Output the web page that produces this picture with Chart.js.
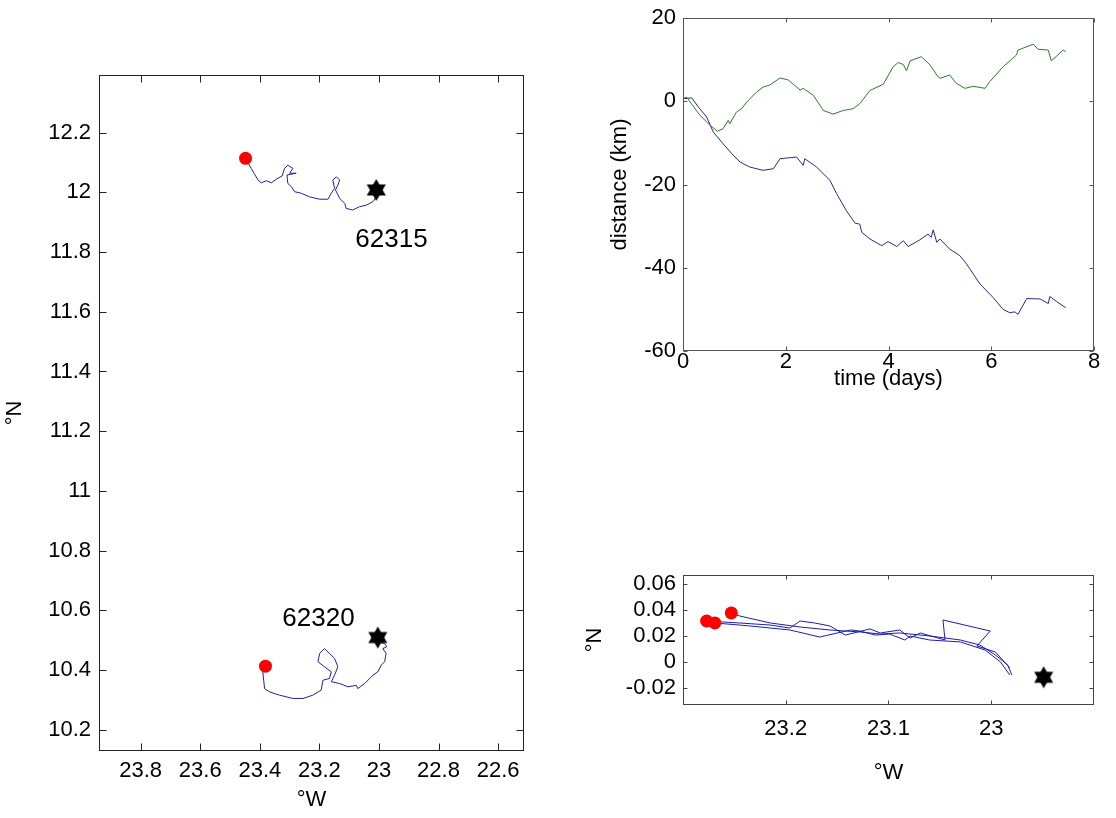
<!DOCTYPE html>
<html>
<head>
<meta charset="utf-8">
<script src="https://cdn.jsdelivr.net/npm/chart.js@4.4.1/dist/chart.umd.min.js"></script>
<style>
  html, body { margin: 0; padding: 0; background: #fff; }
  body { width: 1116px; height: 818px; position: relative; overflow: hidden; }
  canvas { position: absolute; }
</style>
</head>
<body>
<canvas id="mapa" width="540" height="818" style="left:0;top:0"></canvas>
<canvas id="distancia" width="556" height="400" style="left:560px;top:0"></canvas>
<canvas id="relativo" width="556" height="278" style="left:560px;top:540px"></canvas>
<script>
// --- left panel: drifter tracks (deg W, deg N)
const lon62315 = [23.448, 23.429, 23.406, 23.395, 23.378, 23.361, 23.345, 23.325, 23.317, 23.306, 23.289, 23.300, 23.278, 23.309, 23.306, 23.294, 23.283, 23.261, 23.233, 23.199, 23.171, 23.160, 23.149, 23.155, 23.143, 23.132, 23.138, 23.146, 23.132, 23.115, 23.110, 23.088, 23.065, 23.043, 23.020, 23.009, 23.009];
const lat62315 = [12.114, 12.080, 12.041, 12.032, 12.039, 12.032, 12.044, 12.055, 12.080, 12.091, 12.080, 12.064, 12.064, 12.058, 12.030, 12.019, 12.002, 11.997, 11.985, 11.977, 11.977, 11.997, 12.013, 12.041, 12.052, 12.041, 12.024, 12.008, 11.980, 11.963, 11.946, 11.941, 11.952, 11.957, 11.969, 11.985, 12.008];
const lon62320 = [23.381, 23.390, 23.384, 23.367, 23.334, 23.289, 23.255, 23.222, 23.194, 23.188, 23.166, 23.160, 23.183, 23.205, 23.199, 23.183, 23.166, 23.149, 23.138, 23.149, 23.160, 23.132, 23.104, 23.076, 23.071, 23.048, 23.020, 23.004, 22.992, 22.981, 22.976, 22.987, 22.974, 22.981, 22.992, 23.004];
const lat62320 = [10.413, 10.394, 10.338, 10.327, 10.316, 10.305, 10.305, 10.316, 10.333, 10.366, 10.372, 10.394, 10.411, 10.428, 10.456, 10.472, 10.456, 10.439, 10.411, 10.383, 10.361, 10.355, 10.344, 10.349, 10.338, 10.355, 10.383, 10.394, 10.417, 10.428, 10.456, 10.472, 10.478, 10.489, 10.491, 10.509];
const finLon = [23.448, 23.381];
const finLat = [12.114, 10.413];
const inicioLon = [23.009, 23.004];
const inicioLat = [12.008, 10.509];
const boyas = ['62315', '62320'];
const boyasLon = [22.958, 23.203];
const boyasLat = [11.840, 10.570];
const mapaXTicks = [22.6, 22.8, 23, 23.2, 23.4, 23.6, 23.8];
const mapaYTicks = [10.2, 10.4, 10.6, 10.8, 11, 11.2, 11.4, 11.6, 11.8, 12, 12.2];

// --- top right: distance (km) against time (days)
const verdeT = [0, 0.07, 0.14, 0.33, 0.53, 0.67, 0.78, 0.88, 0.91, 1.04, 1.14, 1.24, 1.43, 1.56, 1.69, 1.89, 2.05, 2.28, 2.34, 2.54, 2.73, 2.92, 3.12, 3.31, 3.44, 3.64, 3.90, 4.09, 4.19, 4.29, 4.35, 4.42, 4.64, 4.81, 4.94, 5.0, 5.19, 5.32, 5.49, 5.65, 5.88, 5.97, 6.23, 6.49, 6.52, 6.82, 6.91, 7.11, 7.17, 7.40, 7.45];
const verdeD = [0.6, 1.0, -0.2, -3.4, -5.8, -7.2, -6.6, -4.6, -5.4, -2.6, -1.8, -0.2, 2.2, 3.4, 3.9, 5.6, 5.1, 2.7, 3.1, 1.4, -2.2, -3.1, -2.2, -1.8, -0.6, 2.6, 4.1, 8.3, 9.3, 8.8, 7.3, 9.7, 10.7, 8.7, 6.3, 5.5, 6.3, 4.3, 3.1, 3.6, 3.1, 4.7, 8.3, 11.1, 12.3, 13.7, 12.5, 12.3, 9.7, 12.3, 11.9];
const azulT = [0, 0.17, 0.30, 0.46, 0.59, 0.78, 0.95, 1.11, 1.30, 1.56, 1.76, 1.89, 2.21, 2.34, 2.37, 2.60, 2.86, 2.99, 3.18, 3.35, 3.44, 3.48, 3.64, 3.87, 3.99, 4.16, 4.29, 4.38, 4.61, 4.77, 4.83, 4.87, 4.94, 5.0, 5.19, 5.39, 5.52, 5.78, 6.04, 6.23, 6.36, 6.46, 6.52, 6.69, 6.95, 7.11, 7.14, 7.27, 7.45];
const azulD = [0.6, 0.8, -1.4, -3.8, -7.4, -10.2, -12.6, -14.6, -15.8, -16.6, -16.2, -13.8, -13.4, -15.4, -13.8, -15.8, -19.0, -22.2, -26.3, -29.3, -29.5, -31.5, -33.1, -34.7, -33.7, -34.9, -33.5, -34.9, -33.3, -31.9, -32.7, -30.9, -33.9, -33.1, -35.5, -37.1, -39.1, -43.9, -47.2, -50.0, -50.8, -50.6, -51.2, -47.4, -47.5, -48.6, -46.9, -48.1, -49.6];
const tiempoTicks = [0, 2, 4, 6, 8];
const distanciaTicks = [-60, -40, -20, 0, 20];

// --- bottom right: relative tracks
const relALon = [23.253, 23.245, 23.215, 23.186, 23.157, 23.128, 23.108, 23.089, 23.060, 23.030, 23.011, 22.996, 22.984, 22.980];
const relALat = [0.0378, 0.0355, 0.0301, 0.027, 0.0247, 0.0232, 0.0216, 0.0224, 0.0201, 0.017, 0.0131, 0.0055, -0.0022, -0.0099];
const relBLon = [23.277, 23.245, 23.215, 23.196, 23.186, 23.172, 23.157, 23.142, 23.118, 23.108, 23.089, 23.079, 23.069, 23.045, 23.047, 23.001, 23.014, 22.996, 22.982];
const relBLat = [0.0316, 0.0301, 0.0285, 0.0262, 0.0316, 0.0301, 0.0278, 0.0208, 0.0255, 0.0224, 0.0247, 0.0185, 0.0224, 0.017, 0.0324, 0.0239, 0.0124, 0.0078, -0.0045];
const relCLon = [23.269, 23.245, 23.235, 23.196, 23.167, 23.137, 23.128, 23.113, 23.099, 23.084, 23.079, 23.060, 23.030, 23.006, 22.991, 22.982];
const relCLat = [0.0301, 0.0285, 0.0278, 0.0247, 0.0193, 0.0247, 0.0239, 0.0208, 0.0216, 0.017, 0.0201, 0.017, 0.0155, 0.0093, 0.0001, -0.0099];
const relFinLon = [23.277, 23.269, 23.253];
const relFinLat = [0.0316, 0.0301, 0.0378];
const relInicioLon = [22.949];
const relInicioLat = [-0.0117];
const relXTicks = [23, 23.1, 23.2];
const relYTicks = [-0.02, 0, 0.02, 0.04, 0.06];

const familia = "'Liberation Sans', Arial, sans-serif";
const fuente = { family: familia, size: 22, lineHeight: 1 };
const azulMapa = '#22229c';
const rojo = '#ff0000';

const puntos = (xs, ys) => xs.map((x, i) => ({ x, y: ys[i] }));

// six pointed star used as start marker
function estrella(r) {
  const c = document.createElement('canvas');
  const s = Math.ceil(r * 2) + 2;
  c.width = s;
  c.height = s;
  const g = c.getContext('2d');
  g.fillStyle = '#000';
  [-90, 90].forEach(a0 => {
    g.beginPath();
    for (let k = 0; k < 3; k++) {
      const a = (a0 + k * 120) * Math.PI / 180;
      g.lineTo(s / 2 + r * Math.cos(a), s / 2 + r * Math.sin(a));
    }
    g.closePath();
    g.fill();
  });
  return c;
}
const marcaEstrella = estrella(11);

// box around the plot area, inward ticks on all four sides, text labels
const marco = {
  id: 'marco',
  afterDraw(chart, args, opts) {
    const { ctx, chartArea: a, scales } = chart;
    const l = Math.round(a.left) + 0.5, r = Math.round(a.right) - 0.5;
    const t = Math.round(a.top) + 0.5, b = Math.round(a.bottom) - 0.5;
    ctx.save();
    ctx.strokeStyle = opts.color;
    ctx.lineWidth = 1;
    ctx.strokeRect(l, t, r - l, b - t);
    ctx.beginPath();
    scales.x.ticks.forEach(tk => {
      const px = Math.round(scales.x.getPixelForValue(tk.value)) + 0.5;
      ctx.moveTo(px, b); ctx.lineTo(px, b - opts.largo);
      ctx.moveTo(px, t); ctx.lineTo(px, t + opts.largo);
    });
    scales.y.ticks.forEach(tk => {
      const py = Math.round(scales.y.getPixelForValue(tk.value)) + 0.5;
      ctx.moveTo(l, py); ctx.lineTo(l + opts.largo, py);
      ctx.moveTo(r, py); ctx.lineTo(r - opts.largo, py);
    });
    ctx.stroke();
    (opts.textos || []).forEach(tx => {
      ctx.fillStyle = '#000';
      ctx.font = '26px ' + familia;
      ctx.textAlign = 'center';
      ctx.textBaseline = 'middle';
      ctx.fillText(tx.texto, scales.x.getPixelForValue(tx.x), scales.y.getPixelForValue(tx.y));
    });
    ctx.restore();
  }
};

function eje(min, max, valores, cfg) {
  return {
    type: 'linear',
    min, max,
    reverse: !!cfg.reverse,
    grid: { display: false, drawTicks: false },
    border: { display: false },
    ticks: {
      color: '#000', font: fuente, padding: cfg.pad,
      autoSkip: false, maxRotation: 0, minRotation: 0,
      callback: v => String(v)
    },
    title: {
      display: !!cfg.titulo, text: cfg.titulo, color: '#000', font: fuente,
      padding: cfg.tpad
    },
    afterBuildTicks: s => { s.ticks = valores.map(v => ({ value: v })); },
    afterFit: s => {
      if (s.isHorizontal()) s.height = cfg.size; else s.width = cfg.size;
    }
  };
}

function opciones(padding, x, y, color, largo, textos) {
  return {
    responsive: false,
    animation: false,
    devicePixelRatio: 1,
    layout: { padding },
    plugins: {
      legend: { display: false },
      tooltip: { enabled: false },
      marco: { color, largo, textos }
    },
    scales: { x, y }
  };
}

function linea(data, color) {
  return { data, showLine: true, borderColor: color, borderWidth: 1, pointRadius: 0, fill: false, tension: 0 };
}
function marcas(data, estilo) {
  if (estilo === 'punto') {
    return { data, showLine: false, pointRadius: 6.5, pointBackgroundColor: rojo, pointBorderWidth: 0 };
  }
  return { data, showLine: false, pointStyle: marcaEstrella, pointRadius: 11 };
}

new Chart(document.getElementById('mapa'), {
  type: 'scatter',
  data: {
    datasets: [
      marcas(puntos(finLon, finLat), 'punto'),
      marcas(puntos(inicioLon, inicioLat), 'estrella'),
      linea(puntos(lon62315, lat62315), azulMapa),
      linea(puntos(lon62320, lat62320), azulMapa)
    ]
  },
  options: opciones(
    { top: 75, right: 16, left: 0, bottom: 0 },
    eje(22.513, 23.94, mapaXTicks, { reverse: true, pad: 9, titulo: '°W', tpad: { top: 0, bottom: 7 }, size: 67 }),
    eje(10.129, 12.393, mapaYTicks, { pad: 8, titulo: '°N', tpad: { top: 4, bottom: 0 }, size: 99 }),
    '#222', 7,
    boyas.map((texto, i) => ({ texto, x: boyasLon[i], y: boyasLat[i] }))
  ),
  plugins: [marco]
});

new Chart(document.getElementById('distancia'), {
  type: 'scatter',
  data: {
    datasets: [
      linea(puntos(verdeT, verdeD), '#2b7d2b'),
      linea(puntos(azulT, azulD), '#2a2a90')
    ]
  },
  options: opciones(
    { top: 18, right: 22, left: 0, bottom: 0 },
    eje(0, 8, tiempoTicks, { pad: 0, titulo: 'time (days)', tpad: { top: 0, bottom: 10 }, size: 49 }),
    eje(-60, 20, distanciaTicks, { pad: 7, titulo: 'distance (km)', tpad: { top: 49, bottom: 0 }, size: 123 }),
    '#555', 4, []
  ),
  plugins: [marco]
});

new Chart(document.getElementById('relativo'), {
  type: 'scatter',
  data: {
    datasets: [
      marcas(puntos(relFinLon, relFinLat), 'punto'),
      marcas(puntos(relInicioLon, relInicioLat), 'estrella'),
      linea(puntos(relALon, relALat), '#1c1cb4'),
      linea(puntos(relBLon, relBLat), '#1c1cb4'),
      linea(puntos(relCLon, relCLat), '#1c1cb4')
    ]
  },
  options: opciones(
    { top: 35, right: 22, left: 0, bottom: 0 },
    eje(22.9, 23.3, relXTicks, { reverse: true, pad: 13, titulo: '°W', tpad: { top: 0, bottom: 34 }, size: 113 }),
    eje(-0.033, 0.067, relYTicks, { pad: 7, titulo: '°N', tpad: { top: 24, bottom: 0 }, size: 123 }),
    '#444', 4, []
  ),
  plugins: [marco]
});
</script>
</body>
</html>
